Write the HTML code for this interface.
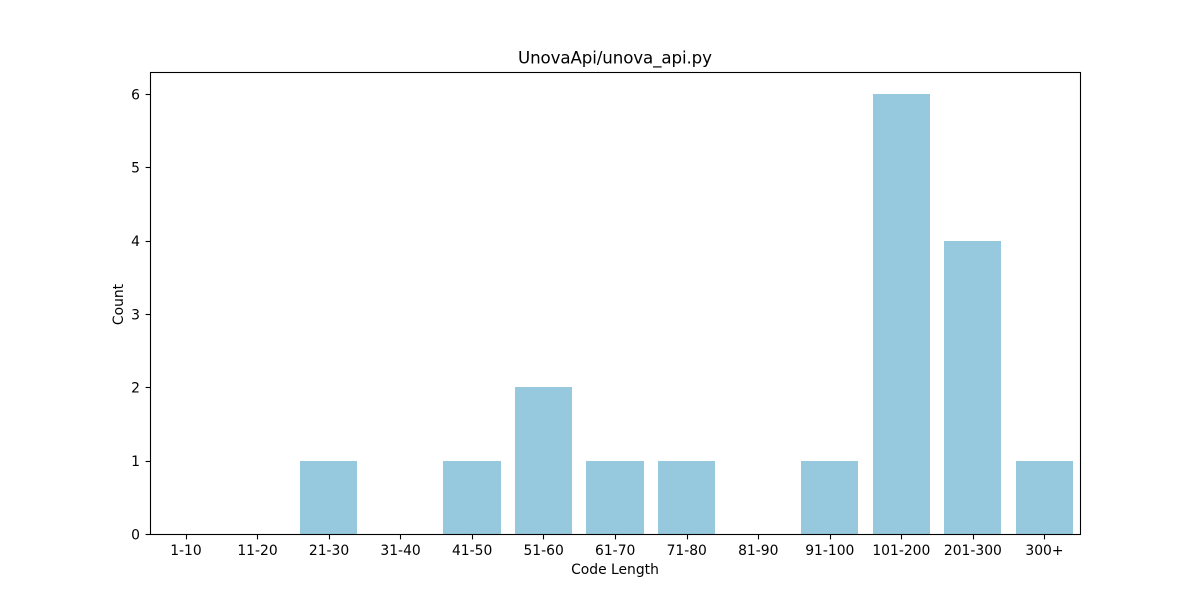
<!DOCTYPE html>
<html>
<head>
<meta charset="utf-8">
<style>
html,body{margin:0;padding:0;background:#fff;}
svg{display:block;}
text{font-family:"DejaVu Sans","Liberation Sans",sans-serif;fill:#000;}
</style>
</head>
<body>
<svg id="chart" xmlns="http://www.w3.org/2000/svg" width="1200" height="600" viewBox="0 0 1200 600">
<rect x="0" y="0" width="1200" height="600" fill="#ffffff"/>
<text x="615" y="63.7" font-size="16.67" text-anchor="middle" textLength="194" lengthAdjust="spacing">UnovaApi/unova_api.py</text>
<text x="615" y="574" font-size="13.89" text-anchor="middle">Code Length</text>
<text transform="translate(123,304.5) rotate(-90)" font-size="13.89" text-anchor="middle">Count</text>
<g id="bars"></g>
<g id="x-ticks"></g>
<g id="y-ticks"></g>
<rect x="150.5" y="72.5" width="930" height="462" fill="none" stroke="#000" stroke-width="1.1"/>
</svg>
<script>
const categories = ["1-10","11-20","21-30","31-40","41-50","51-60","61-70","71-80","81-90","91-100","101-200","201-300","300+"];
const counts = [0,0,1,0,1,2,1,1,0,1,6,4,1];
const yTickValues = [0,1,2,3,4,5,6];

const NS = 'http://www.w3.org/2000/svg';
const plotLeft = 150, plotRight = 1080, plotTop = 72, plotBottom = 534;
const yMax = Math.max(...counts) * 1.05;
const barFraction = 0.8;
const step = (plotRight - plotLeft) / categories.length;

function xScale(index) { return plotLeft + (index + 0.5) * step; }
function yScale(value) { return plotBottom - (value / yMax) * (plotBottom - plotTop); }
function make(tag, attrs) {
  const el = document.createElementNS(NS, tag);
  for (const key in attrs) el.setAttribute(key, attrs[key]);
  return el;
}

const barsGroup = document.getElementById('bars');
const xTicksGroup = document.getElementById('x-ticks');
const yTicksGroup = document.getElementById('y-ticks');

categories.forEach(function (label, i) {
  const cx = xScale(i);
  const w = step * barFraction;
  const left = Math.round(cx - w / 2);
  const right = Math.round(cx + w / 2);
  const top = Math.round(yScale(counts[i]));
  const bar = make('rect', { x: left, y: top, width: right - left, height: plotBottom - top, fill: '#96c9dd' });
  
  
  barsGroup.appendChild(bar);

  const tx = Math.round(cx) + 0.5;
  const tick = make('line', { x1: tx, x2: tx, y1: plotBottom, y2: plotBottom + 5.4, stroke: '#000', 'stroke-width': 1.1 });
  
  
  xTicksGroup.appendChild(tick);

  const text = make('text', { x: cx + 0.2, y: 555, 'font-size': 13.89, 'text-anchor': 'middle' });
  
  
  text.textContent = label;
  xTicksGroup.appendChild(text);
});

yTickValues.forEach(function (value) {
  const py = yScale(value);
  const ty = Math.round(py) + 0.5;
  const tick = make('line', { x1: plotLeft - 4.4, x2: plotLeft, y1: ty, y2: ty, stroke: '#000', 'stroke-width': 1.1 });
  
  
  yTicksGroup.appendChild(tick);

  const text = make('text', { x: 140, y: py + 5.3, 'font-size': 13.89, 'text-anchor': 'end' });
  
  
  text.textContent = value;
  yTicksGroup.appendChild(text);
});
</script>
</body>
</html>
